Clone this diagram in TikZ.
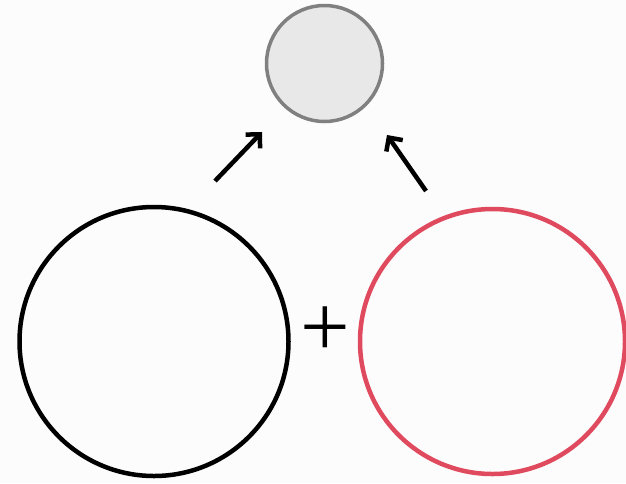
\documentclass[tikz,border=0pt]{standalone}
\usepackage{fontspec}
\newfontfamily\plusfont{Liberation Serif}
\usetikzlibrary{arrows.meta}
\definecolor{bgc}{HTML}{FCFCFC}
\definecolor{topfill}{HTML}{E8E8E8}
\definecolor{topdraw}{HTML}{808080}
\definecolor{redc}{HTML}{E04A5E}
\begin{document}
\begin{tikzpicture}[x=1pt,y=-1pt,
  bigcirc/.style={circle,draw,line width=4.5pt,inner sep=0pt,minimum size=#1},
  arr/.style={line width=4.5pt,-{Straight Barb[length=10pt,width=20pt,line width=4.5pt]}}]
\fill[bgc] (0,0) rectangle (626,483);
\useasboundingbox (0,0) rectangle (626,483);
\node[circle,draw=topdraw,fill=topfill,line width=3.5pt,inner sep=0pt,minimum size=116pt] (top) at (324.5,63.5) {};
\node[bigcirc=269pt,draw=black] (left) at (154,341.5) {};
\node[bigcirc=265pt,draw=redc] (right) at (492.5,341.5) {};
\node[font=\plusfont\fontsize{88}{88}\selectfont,inner sep=0pt] (plus) at (325,332) {+};
\coordinate (la) at (215,181);
\coordinate (lb) at (262,132);
\coordinate (ra) at (426,191);
\coordinate (rb) at (387,135);
\draw[arr] (la) -- (lb);
\draw[arr] (ra) -- (rb);
\end{tikzpicture}
\end{document}
